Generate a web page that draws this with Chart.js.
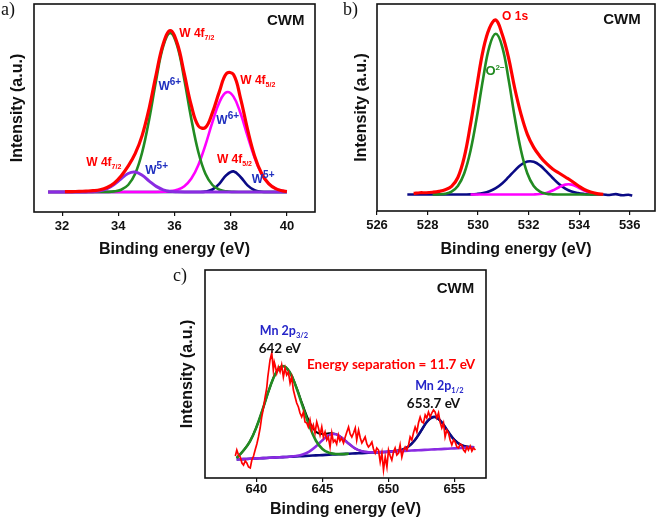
<!DOCTYPE html>
<html><head><meta charset="utf-8">
<script src="https://cdn.jsdelivr.net/npm/chart.js@4.4.1/dist/chart.umd.min.js"></script>
<style>
html,body{margin:0;padding:0;background:#fff;}
#wrap{position:relative;width:661px;height:523px;overflow:hidden;background:#fff;}
canvas{position:absolute;}
</style></head><body>
<div id="wrap">
<canvas id="ca" width="330" height="262" style="left:0;top:0"></canvas>
<canvas id="cb" width="331" height="262" style="left:330px;top:0"></canvas>
<canvas id="cc" width="330" height="261" style="left:170px;top:262px"></canvas>
</div>
<script>
// ---------- Panel a : W 4f ----------
const energyA = [31.5,31.85,32.1,32.35,32.6,32.85,33.1,33.35,33.6,33.85,34.1,34.35,34.6,34.85,35.1,35.35,35.6,35.85,36.1,36.35,36.6,36.85,37.1,37.35,37.6,37.85,38.1,38.35,38.6,38.85,39.1,39.35,39.6,39.85,40.0];
const redA     = [null,null,0.3,0.4,0.6,0.9,1.3,2.2,4.5,8.8,16.0,25.8,38.3,56.6,84.0,118.0,148.3,161.5,148.4,118.1,86.3,66.0,64.5,79.4,100.6,118.5,117.5,93.7,62.6,36.1,18.5,8.3,3.3,1.1,0.5];
const greenA   = [0,0,0,0,0,0,0,0,0.1,0.6,2.3,7.0,18.2,39.7,72.8,112.3,145.8,159,145.8,112.3,72.8,39.7,18.2,7.0,2.3,0.6,0.1,0,0,0,0,0,0,0,0];
const magentaA = [0,0,0,0,0,0,0,0,0,0,0,0,0,0,0,0,0.2,0.7,2.2,5.8,13.5,27.1,46.9,69.9,89.9,99.7,95.4,78.7,56.0,34.4,18.2,8.3,3.3,1.1,0.5];
const purpleA  = [0,0,0,0,0,0.1,0.3,1.1,3.3,7.5,13.3,18.5,19.9,16.7,10.9,5.6,2.2,0.7,0.2,0,0,0,0,0,0,0,0,0,0,0,0,0,0,0,0];
const navyA    = [0,0,0,0,0,0,0,0,0,0,0,0,0,0,0,0,0,0,0,0,0,0,0.4,2.5,8.4,17.0,20.6,15.0,6.6,1.7,0.3,0,0,0,0];
const ticksA = [32,34,36,38,40];

// ---------- Panel b : O 1s ----------
const energyB = [527.2,527.45,527.7,527.95,528.2,528.45,528.7,528.95,529.2,529.45,529.7,529.95,530.2,530.45,530.7,530.95,531.2,531.45,531.7,531.95,532.2,532.45,532.7,532.95,533.2,533.45,533.7,533.95,534.2,534.45,534.7,534.95,535.2,535.45,535.7,535.95,536.1];
const redB     = [null,1.2,1.8,1.8,2.3,3.2,4.8,8.2,17,37,70,108,144,166,174,160,137,106,80,60,47,38,31,25.5,21.5,17.5,13.5,9,5,2.5,1,0.3,null,null,null,null,null];
const greenB   = [null,null,null,null,0,0.2,0.9,3.0,8.6,21.0,43.7,77.1,115.8,147.8,160.3,147.8,115.8,77.1,43.7,21.0,8.6,3.0,0.9,0.2,0,0,0,0,0,0,0,0,null,null,null,null,null];
const magentaB = [null,null,null,null,null,null,null,null,null,null,0,0,0,0,0,0,0,0,0,0,0.1,0.5,1.6,4.0,7.3,9.9,9.9,7.2,3.9,1.5,0.4,0.1,null,null,null,null,null];
const navyB    = [0,0,0,0,0,0,0,0,0,0.1,0.2,0.6,1.5,3.3,6.4,11.1,17.3,23.9,29.7,32.9,32.7,29.1,23.1,16.5,10.5,6.0,3.0,1.4,0.6,0.2,0,0,-0.5,0.4,-0.7,-0.2,-1.0];
const ticksB = [526,528,530,532,534,536];

// ---------- Panel c : Mn 2p ----------
const energyC = [638.5,639,639.5,640,640.5,641,641.5,642,642.5,643,643.5,644,644.5,645,645.5,646,646.5,647,647.5,648,648.5,649,649.5,650,650.5,651,651.5,652,652.5,653,653.5,654,654.5,655,655.5,656,656.5];
const greenC  = [22.0,29.2,38.4,52.9,71.8,91.9,107.7,113.9,108.3,93.3,73.8,54.5,39.5,31.0,27.2,26.0,25.9,26.3,null,null,null,null,null,null,null,null,null,null,null,null,null,null,null,null,null,null,null];
const purpleC = [20.6,20.9,21.2,21.6,21.9,22.2,22.6,22.9,23.3,24.0,25.4,28.4,33.4,39.8,44.9,45.7,41.9,36.3,31.4,28.7,27.8,27.7,27.9,28.3,28.6,28.9,29.3,29.6,29.9,30.3,30.6,30.9,31.3,31.6,32.0,32.3,32.6];
const navyC   = [20.6,20.9,21.2,21.6,21.9,22.2,22.6,22.9,23.2,23.6,23.9,24.3,24.6,24.9,25.3,25.6,25.9,26.3,26.6,26.9,27.3,27.6,27.9,28.3,28.9,30.1,33.3,39.7,49.6,59.4,63.1,58.4,48.9,40.2,35.2,33.2,32.8];
const envelopeC = [22.0,29.2,38.4,52.9,71.8,91.9,107.7,114.0,108.4,93.7,75.3,58.6,48.3,45.9,46.8,46.1,42.0,36.4,31.4,28.7,27.8,27.7,27.9,28.3,28.9,30.1,33.3,39.7,49.6,59.4,63.1,58.4,48.9,40.2,35.2,33.2,32.8];
const rawCx = [638.4,638.51,638.64,638.77,638.9,639.02,639.15,639.27,639.4,639.53,
 639.65,639.78,639.9,640.03,640.15,640.28,640.4,640.53,640.66,640.78,
 640.86,640.95,641.03,641.16,641.28,641.35,641.41,641.54,641.66,641.79,
 641.91,642.04,642.17,642.29,642.42,642.55,642.67,642.8,642.93,643.05,
 643.18,643.3,643.43,643.56,643.68,643.81,643.93,644.06,644.19,644.31,
 644.44,644.57,644.7,644.82,644.95,645.07,645.2,645.33,645.45,645.58,
 645.71,645.83,645.95,646.08,646.21,646.33,646.45,646.6,646.73,646.85,
 646.98,647.1,647.23,647.36,647.49,647.6,647.74,647.87,647.99,648.12,
 648.24,648.37,648.49,648.62,648.75,648.87,649.0,649.12,649.25,649.38,
 649.51,649.63,649.76,649.89,650.01,650.14,650.26,650.39,650.51,650.64,
 650.77,650.89,651.02,651.15,651.27,651.4,651.53,651.65,651.78,651.9,
 652.03,652.16,652.28,652.41,652.54,652.66,652.79,652.91,653.04,653.17,
 653.29,653.42,653.54,653.67,653.8,653.92,654.05,654.18,654.3,654.43,
 654.56,654.68,654.81,654.94,655.06,655.19,655.32,655.44,655.57,655.7,
 655.82,655.95,656.07,656.2,656.33,656.45,656.6];
const rawCy = [24,30,25,23,17,15,19,17,13,12,
 20,24,30,36,43,52,63,72,83,92,
 103,112,120,127,110,118,115,107,113,108,
 115,103,112,105,108,97,103,90,83,77,
 73,67,63,68,58,57,53,60,50,55,
 47,58,52,45,53,43,48,40,43,33,
 47,38,40,36,45,39,42,37,43,48,
 53,46,43,47,52,40,50,42,37,40,
 43,36,33,35,38,31,27,32,30,18,
 27,10,23,13,30,24,20,28,32,25,
 27,35,23,30,33,30,35,43,40,47,
 53,48,57,63,58,57,65,62,68,63,
 67,70,68,62,67,58,52,57,43,50,
 47,40,35,40,38,33,32,36,35,30,
 28,33,30,34,29,32,30];
const ticksC = [640,645,650,655];

// ---------- helpers ----------
const SANS = "'Liberation Sans', Arial, sans-serif";
const CAL = "Lato, 'Open Sans', sans-serif";
const pts = (xs, ys) => xs.map((x, i) => ({x: x, y: ys[i]}));
const line = (label, xs, ys, color, width, smooth) => ({
  label, data: pts(xs, ys), borderColor: color, backgroundColor: color,
  borderWidth: width, pointRadius: 0, fill: false, spanGaps: false,
  tension: smooth ? 0.4 : 0, cubicInterpolationMode: 'default'
});

const framePlugin = {
  id: 'frame',
  afterDraw(chart) {
    const {ctx, chartArea: a} = chart;
    ctx.save();
    ctx.strokeStyle = '#111'; ctx.lineWidth = 1.6;
    ctx.strokeRect(a.left, a.top, a.right - a.left, a.bottom - a.top);
    ctx.restore();
  }
};
const labelPlugin = {
  id: 'labels',
  afterDraw(chart, args, opts) {
    const ctx = chart.ctx, xs = chart.scales.x, ys = chart.scales.y;
    ctx.save();
    (opts.items || []).forEach(it => {
      const px = it.px !== undefined ? it.px : xs.getPixelForValue(it.x);
      const py = it.py !== undefined ? it.py : ys.getPixelForValue(it.y);
      let cx = px;
      const base = py + 0.36 * it.parts[0].size;
      it.parts.forEach(p => {
        ctx.font = `${p.weight || it.weight || 'bold'} ${p.size}px ${p.family || it.family || SANS}`;
        ctx.fillStyle = p.color || it.color || '#111';
        ctx.textBaseline = 'alphabetic'; ctx.textAlign = 'left';
        if (it.maxWidth) ctx.fillText(p.text, cx, base + (p.dy || 0), it.maxWidth);
        else ctx.fillText(p.text, cx, base + (p.dy || 0));
        cx += ctx.measureText(p.text).width;
      });
    });
    ctx.restore();
  }
};

function makeChart(id, o) {
  return new Chart(document.getElementById(id), {
    type: 'line',
    data: {datasets: o.datasets},
    plugins: [framePlugin, labelPlugin],
    options: {
      responsive: false, animation: false, events: [],
      layout: {padding: o.padding},
      plugins: {legend: {display: false}, tooltip: {enabled: false}, labels: {items: o.labels}},
      scales: {
        x: {
          type: 'linear', min: o.xmin, max: o.xmax,
          afterBuildTicks: s => { s.ticks = o.ticks.map(v => ({value: v})); },
          ticks: {font: {family: SANS, size: 13, weight: 'bold'}, color: '#111', padding: o.tickPad, maxRotation: 0, autoSkip: false, callback: v => String(v)},
          grid: {display: true, drawOnChartArea: false, drawTicks: true, tickLength: 4, color: '#111', lineWidth: 1.2},
          border: {display: false},
          title: {display: true, text: 'Binding energy (eV)', color: '#111', font: {family: SANS, size: 16, weight: 'bold'}, padding: {top: 0, bottom: o.xTitlePad}},
          afterFit: s => { s.height = o.xHeight; }
        },
        y: {
          type: 'linear', min: o.ymin, max: o.ymax,
          ticks: {display: false}, grid: {display: false}, border: {display: false},
          title: {display: true, text: 'Intensity (a.u.)', color: '#111', font: {family: SANS, size: 16, weight: 'bold'}, padding: {top: o.yTitlePad, bottom: 0}},
          afterFit: s => { s.width = o.yWidth; }
        }
      }
    }
  });
}

const RED = '#ff0000', GREEN = '#228b22', MAG = '#ff00ff', NAVY = '#0a0a85', PURP = '#8a2be2', BLUE = '#1f2fbf';
const W = (txt, x, y, color, sc, scDy, scSize) => ({x, y, color, parts: [{text: txt, size: 12}, {text: sc, size: scSize, dy: scDy}]});

makeChart('ca', {
  padding: {top: 4, right: 15, left: 0, bottom: 0},
  xmin: 31, xmax: 41, ymin: -20, ymax: 188, ticks: ticksA,
  xHeight: 50, yWidth: 34, xTitlePad: 3, yTitlePad: 8, tickPad: 3,
  datasets: [
    line('W 4f envelope', energyA, redA, RED, 3.2, true),
    line('W5+ 4f7/2', energyA, purpleA, PURP, 3, true),
    line('W6+ 4f7/2', energyA, greenA, GREEN, 2.6, true),
    line('W6+ 4f5/2', energyA, magentaA, MAG, 2.6, true),
    line('W5+ 4f5/2', energyA, navyA, NAVY, 2.6, true)
  ],
  labels: [
    {px: 1, py: 8.5, parts: [{text: 'a)', size: 18, weight: 'normal', family: "'Liberation Serif', serif"}]},
    {x: 39.29, y: 172.8, parts: [{text: 'CWM', size: 15}]},
    W('W 4f', 36.17, 159.5, RED, '7/2', 3, 7),
    W('W', 35.43, 106.5, BLUE, '6+', -5, 10),
    W('W 4f', 38.34, 112, RED, '5/2', 3, 7),
    W('W', 37.49, 72, BLUE, '6+', -5, 10),
    W('W 4f', 32.86, 30.3, RED, '7/2', 3, 7),
    W('W', 34.96, 22.5, BLUE, '5+', -5, 10),
    W('W 4f', 37.51, 33.3, RED, '5/2', 3, 7),
    W('W', 38.75, 13.2, BLUE, '5+', -5, 10)
  ]
});

makeChart('cb', {
  padding: {top: 4, right: 6, left: 0, bottom: 0},
  xmin: 526, xmax: 537, ymin: -16.4, ymax: 190, ticks: ticksB,
  xHeight: 51, yWidth: 47, xTitlePad: 3, yTitlePad: 22, tickPad: 3,
  datasets: [
    line('O 1s', energyB, redB, RED, 3.2, true),
    line('O2-', energyB, greenB, GREEN, 2.6, true),
    line('component 3', energyB, magentaB, MAG, 2.6, true),
    line('component 2', energyB, navyB, NAVY, 2.6, true)
  ],
  labels: [
    {px: 13, py: 8.5, parts: [{text: 'b)', size: 18, weight: 'normal', family: "'Liberation Serif', serif"}]},
    {x: 534.95, y: 175.1, parts: [{text: 'CWM', size: 15}]},
    {x: 530.95, y: 178.5, color: RED, parts: [{text: 'O 1s', size: 12}]},
    {x: 530.29, y: 123.5, color: GREEN, parts: [{text: 'O', size: 13}, {text: '2\u2212', size: 8, dy: -5}]}
  ]
});

makeChart('cc', {
  padding: {top: 8, right: 14, left: 0, bottom: 0},
  xmin: 636.1, xmax: 657.4, ymin: 2, ymax: 210, ticks: ticksC,
  xHeight: 45, yWidth: 35, xTitlePad: 4, yTitlePad: 8, tickPad: 0,
  datasets: [
    {label: 'Mn 2p data', data: pts(rawCx, rawCy), borderColor: RED, borderWidth: 1.7, pointRadius: 0, fill: false, tension: 0},
    line('Mn 2p3/2', energyC, greenC, GREEN, 2.6, true),
    line('satellite', energyC, purpleC, PURP, 2.6, true),
    line('Mn 2p1/2', energyC, navyC, NAVY, 2.6, true),
    line('fit', energyC, envelopeC, '#000', 2, true)
  ],
  labels: [
    {px: 3, py: 12.5, parts: [{text: 'c)', size: 18, weight: 'normal', family: "'Liberation Serif', serif"}]},
    {x: 653.67, y: 192.5, parts: [{text: 'CWM', size: 15}]},
    {x: 640.25, y: 149.2, color: '#2424c8', family: CAL, parts: [{text: 'Mn 2p', size: 12.5}, {text: '3/2', size: 7.5, dy: 3}]},
    {x: 640.17, y: 131.7, color: '#111', family: CAL, parts: [{text: '642 eV', size: 13.5}]},
    {x: 643.83, y: 116, color: RED, family: CAL, maxWidth: 171, parts: [{text: 'Energy separation = 11.7 eV', size: 13.5}]},
    {x: 652.03, y: 94.2, color: '#2424c8', family: CAL, parts: [{text: 'Mn 2p', size: 12.5}, {text: '1/2', size: 7.5, dy: 3}]},
    {x: 651.4, y: 76.7, color: '#111', family: CAL, parts: [{text: '653.7 eV', size: 13.5}]}
  ]
});
</script>
</body></html>
